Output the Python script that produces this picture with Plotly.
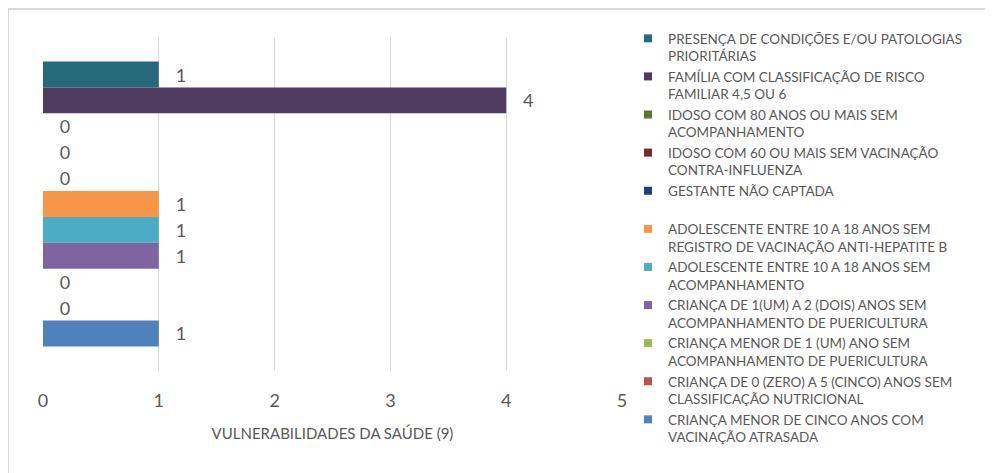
import plotly.graph_objects as go

# categorias (ordem de cima para baixo, igual à legenda)
categorias = [
    "PRESENÇA DE CONDIÇÕES E/OU PATOLOGIAS<br>PRIORITÁRIAS",
    "FAMÍLIA COM CLASSIFICAÇÃO DE RISCO<br>FAMILIAR 4,5 OU 6",
    "IDOSO COM 80 ANOS OU MAIS SEM<br>ACOMPANHAMENTO",
    "IDOSO COM 60 OU MAIS SEM VACINAÇÃO<br>CONTRA-INFLUENZA",
    "GESTANTE NÃO CAPTADA<br> ",
    "ADOLESCENTE ENTRE 10 A 18 ANOS SEM<br>REGISTRO DE VACINAÇÃO ANTI-HEPATITE B",
    "ADOLESCENTE ENTRE 10 A 18 ANOS SEM<br>ACOMPANHAMENTO",
    "CRIANÇA DE 1(UM) A 2 (DOIS) ANOS SEM<br>ACOMPANHAMENTO DE PUERICULTURA",
    "CRIANÇA MENOR DE 1 (UM) ANO SEM<br>ACOMPANHAMENTO DE PUERICULTURA",
    "CRIANÇA DE 0 (ZERO) A 5 (CINCO) ANOS SEM<br>CLASSIFICAÇÃO NUTRICIONAL",
    "CRIANÇA MENOR DE CINCO ANOS COM<br>VACINAÇÃO ATRASADA",
]
valores = [1, 4, 0, 0, 0, 1, 1, 1, 0, 0, 1]
cores = [
    "#26697a", "#4f3b60", "#5f7530", "#7b2a2a", "#24426e", "#f79646",
    "#4bacc6", "#8064a2", "#9bbb59", "#c0504d", "#4f81bd",
]
ticks_x = [0, 1, 2, 3, 4, 5]

CINZA = "#595959"
FONTE = "Lato, 'Open Sans', sans-serif"
NBSP = "\u00a0"

fig = go.Figure()
for i, (cat, v, c) in enumerate(zip(categorias, valores, cores)):
    fig.add_trace(go.Bar(
        x=[v], y=[i], orientation="h", width=1,
        marker=dict(color=c, line=dict(width=0)),
        text=[NBSP * 3 + str(v)], textposition="outside", cliponaxis=False,
        textfont=dict(family=FONTE, size=18, color=CINZA),
        showlegend=False, hoverinfo="skip",
    ))
    # entrada da legenda com quadrado pequeno
    fig.add_trace(go.Scatter(
        x=[None], y=[None], mode="markers", name=cat,
        marker=dict(symbol="square", size=8, color=c),
    ))

# a página tem 8px de margem no body, por isso a figura é 8px menor
fig.update_layout(
    width=985, height=465,
    margin=dict(l=35, r=371, t=30, b=103),
    paper_bgcolor="white", plot_bgcolor="white",
    barmode="overlay",
    font=dict(family=FONTE, color=CINZA),
    xaxis=dict(
        range=[0, 5], tickvals=ticks_x, showgrid=True, gridcolor="#d9d9d9",
        gridwidth=1, zeroline=False, showline=False,
        tickfont=dict(size=18, color=CINZA), ticks="", ticklabelstandoff=18,
        title=dict(text="VULNERABILIDADES DA SAÚDE (9)",
                   font=dict(size=15, color=CINZA), standoff=18),
    ),
    yaxis=dict(range=[11.41, -1.41], showticklabels=False, showgrid=False,
               zeroline=False, showline=False),
    legend=dict(
        x=1.0104, y=1.045, xanchor="left", yanchor="top", valign="top",
        font=dict(size=13.5, color=CINZA, family=FONTE), traceorder="normal",
        itemclick=False, maxheight=600,
    ),
    shapes=[
        dict(type="line", xref="paper", yref="paper", x0=-0.0604, x1=1.65,
             y0=1.087, y1=1.087, line=dict(color="#d9d9d9", width=2)),
        dict(type="line", xref="paper", yref="paper", x0=-0.0604, x1=-0.0604,
             y0=1.087, y1=-0.32, line=dict(color="#d9d9d9", width=2)),
    ],
)

fig.write_html("out.html")
